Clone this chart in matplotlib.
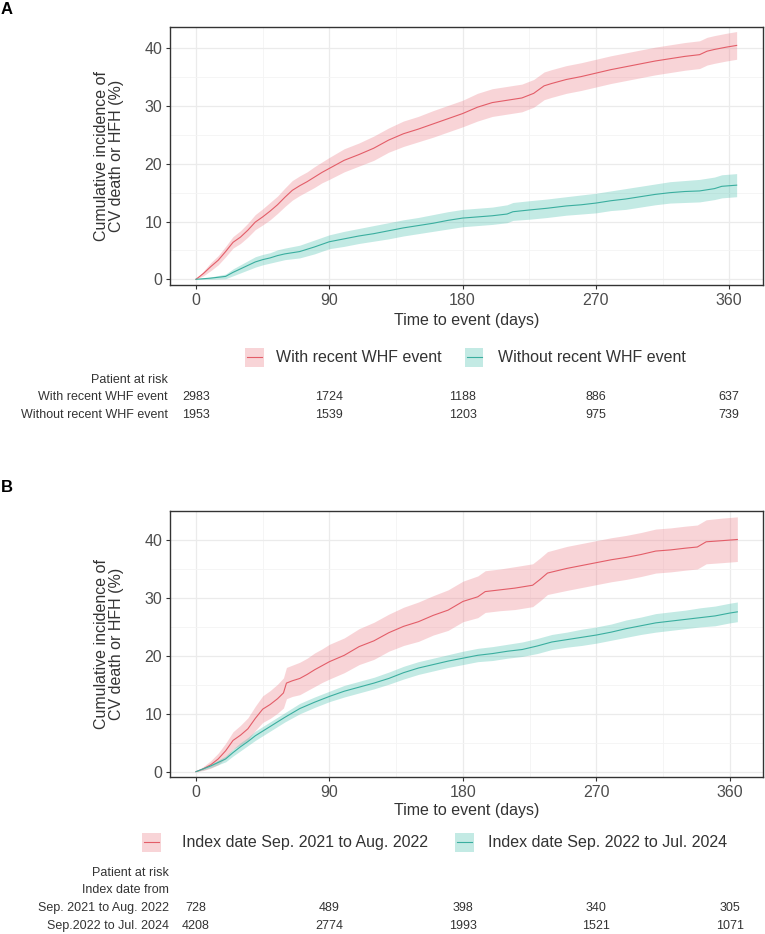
import matplotlib
matplotlib.use("Agg")
import matplotlib.pyplot as plt
import matplotlib.transforms as mtransforms
from matplotlib.patches import Rectangle
from matplotlib.lines import Line2D
import numpy as np

plt.rcParams['font.family'] = ['Liberation Sans', 'DejaVu Sans']

# ---------------- DATA ----------------
# Panel A: With recent WHF event
a1_days = [0, 5, 10, 15, 20, 25, 30, 35, 40, 45, 50, 55, 60, 65, 70, 75, 80, 85, 90, 100, 110, 120, 130,
           140, 150, 160, 170, 180, 190, 200, 210, 220, 228, 235, 240, 250, 260, 270, 280, 290, 300, 310,
           320, 330, 340, 345, 350, 358, 365]
a1_est = [0, 1.0, 2.2, 3.3, 4.8, 6.4, 7.3, 8.5, 9.9, 10.8, 11.8, 12.9, 14.2, 15.4, 16.2, 16.9, 17.7, 18.5,
          19.2, 20.6, 21.6, 22.7, 24.1, 25.2, 26.0, 26.9, 27.8, 28.7, 29.8, 30.6, 31.0, 31.4, 32.2, 33.5,
          33.9, 34.6, 35.1, 35.7, 36.3, 36.8, 37.3, 37.8, 38.2, 38.6, 38.9, 39.5, 39.8, 40.2, 40.5]
a1_lo = [0, 0.6, 1.5, 2.5, 3.9, 5.4, 6.2, 7.3, 8.6, 9.4, 10.3, 11.4, 12.6, 13.7, 14.5, 15.2, 15.9, 16.7,
         17.3, 18.6, 19.6, 20.6, 22.0, 23.0, 23.8, 24.6, 25.5, 26.4, 27.4, 28.2, 28.6, 29.0, 29.8, 31.1,
         31.5, 32.2, 32.7, 33.3, 33.9, 34.4, 34.9, 35.4, 35.8, 36.2, 36.5, 37.1, 37.4, 37.8, 38.1]
a1_hi = [0, 1.4, 2.9, 4.1, 5.7, 7.4, 8.4, 9.7, 11.2, 12.2, 13.3, 14.4, 15.8, 17.1, 17.9, 18.6, 19.5, 20.3,
         21.1, 22.6, 23.6, 24.8, 26.2, 27.4, 28.2, 29.2, 30.1, 31.0, 32.2, 33.0, 33.4, 33.8, 34.6, 35.9,
         36.3, 37.0, 37.5, 38.1, 38.7, 39.2, 39.7, 40.2, 40.6, 41.0, 41.3, 41.9, 42.2, 42.6, 42.9]

# Panel A: Without recent WHF event
a2_days = [0, 10, 20, 25, 30, 35, 40, 45, 50, 55, 60, 70, 80, 90, 100, 110, 120, 130, 140, 150, 160, 170,
           180, 190, 200, 210, 214, 225, 237, 250, 260, 270, 280, 290, 300, 310, 320, 330, 340, 350, 355, 365]
a2_est = [0, 0.2, 0.5, 1.2, 1.8, 2.4, 3.0, 3.4, 3.7, 4.1, 4.4, 4.8, 5.6, 6.5, 7.0, 7.5, 7.9, 8.4, 8.9, 9.3,
          9.7, 10.2, 10.6, 10.8, 11.0, 11.3, 11.7, 12.0, 12.3, 12.7, 12.9, 13.2, 13.6, 13.9, 14.3, 14.7,
          15.0, 15.2, 15.3, 15.7, 16.1, 16.3]
a2_lo = [0, 0.0, 0.1, 0.6, 1.1, 1.6, 2.1, 2.5, 2.8, 3.1, 3.4, 3.7, 4.4, 5.3, 5.7, 6.2, 6.6, 7.0, 7.5, 7.9,
         8.3, 8.7, 9.1, 9.3, 9.5, 9.8, 10.2, 10.4, 10.7, 11.1, 11.3, 11.5, 11.9, 12.1, 12.5, 12.9, 13.2,
         13.3, 13.4, 13.8, 14.1, 14.3]
a2_hi = [0, 0.4, 0.9, 1.8, 2.5, 3.2, 3.9, 4.3, 4.6, 5.1, 5.4, 5.9, 6.8, 7.7, 8.3, 8.8, 9.3, 9.8, 10.3, 10.7,
         11.2, 11.7, 12.1, 12.3, 12.5, 12.9, 13.3, 13.6, 13.9, 14.3, 14.6, 14.9, 15.3, 15.7, 16.1, 16.5,
         16.9, 17.1, 17.3, 17.7, 18.1, 18.3]

# Panel B: Index date Sep. 2021 to Aug. 2022
b1_days = [0, 5, 10, 15, 20, 25, 30, 35, 40, 45, 50, 55, 59, 61, 65, 70, 75, 80, 85, 90, 100, 110, 120,
           130, 140, 150, 160, 170, 180, 190, 195, 205, 215, 227, 232, 237, 250, 260, 270, 280, 290, 300,
           310, 320, 330, 338, 344, 355, 365]
b1_est = [0, 0.5, 1.2, 2.2, 3.6, 5.4, 6.3, 7.4, 9.2, 10.8, 11.6, 12.6, 13.6, 15.3, 15.7, 16.1, 16.8, 17.6,
          18.3, 19.0, 20.1, 21.6, 22.6, 24.0, 25.1, 25.9, 27.0, 27.9, 29.4, 30.2, 31.1, 31.4, 31.7, 32.2,
          33.2, 34.3, 35.1, 35.6, 36.1, 36.6, 37.0, 37.5, 38.1, 38.3, 38.6, 38.8, 39.7, 39.9, 40.1]
b1_lo = [0, 0.2, 0.6, 1.2, 2.3, 3.9, 4.6, 5.5, 7.1, 8.5, 9.2, 10.1, 11.0, 12.6, 13.0, 13.3, 14.0, 14.7,
         15.4, 16.0, 17.1, 18.5, 19.4, 20.8, 21.8, 22.5, 23.6, 24.4, 25.9, 26.6, 27.5, 27.8, 28.0, 28.5,
         29.5, 30.6, 31.3, 31.8, 32.3, 32.8, 33.2, 33.7, 34.3, 34.5, 34.8, 35.0, 35.9, 36.1, 36.3]
b1_hi = [0, 0.9, 1.9, 3.2, 4.9, 6.9, 8.0, 9.3, 11.3, 13.1, 14.0, 15.1, 16.2, 18.0, 18.4, 18.9, 19.6, 20.5,
         21.2, 22.0, 23.1, 24.7, 25.8, 27.2, 28.4, 29.3, 30.4, 31.4, 32.9, 33.8, 34.7, 35.0, 35.4, 35.9,
         36.9, 38.0, 38.9, 39.4, 39.9, 40.4, 40.8, 41.3, 41.9, 42.1, 42.4, 42.6, 43.5, 43.8, 44.0]

# Panel B: Index date Sep. 2022 to Jul. 2024
b2_days = [0, 5, 10, 15, 20, 25, 30, 35, 40, 45, 50, 55, 60, 70, 80, 90, 100, 110, 120, 130, 140, 150,
           160, 170, 180, 190, 200, 210, 220, 230, 240, 250, 260, 270, 280, 290, 300, 310, 320, 330, 340,
           350, 360, 365]
b2_est = [0, 0.5, 1.0, 1.6, 2.2, 3.3, 4.3, 5.2, 6.2, 7.0, 7.8, 8.6, 9.4, 10.9, 12.0, 13.0, 13.9, 14.6,
          15.3, 16.1, 17.1, 17.9, 18.5, 19.1, 19.6, 20.1, 20.4, 20.8, 21.1, 21.7, 22.4, 22.8, 23.2, 23.6,
          24.1, 24.7, 25.2, 25.7, 26.0, 26.3, 26.6, 26.9, 27.4, 27.6]
b2_lo = [0, 0.3, 0.7, 1.2, 1.7, 2.7, 3.6, 4.5, 5.4, 6.2, 7.0, 7.8, 8.6, 10.0, 11.1, 12.1, 12.9, 13.6,
         14.3, 15.1, 16.0, 16.8, 17.4, 18.0, 18.5, 19.0, 19.2, 19.6, 19.9, 20.4, 21.1, 21.5, 21.8, 22.2,
         22.7, 23.2, 23.7, 24.1, 24.4, 24.7, 25.0, 25.2, 25.7, 25.9]
b2_hi = [0, 0.7, 1.3, 2.0, 2.7, 3.9, 5.0, 5.9, 7.0, 7.8, 8.6, 9.4, 10.2, 11.8, 12.9, 13.9, 14.9, 15.6,
         16.3, 17.2, 18.2, 19.0, 19.6, 20.2, 20.8, 21.3, 21.6, 22.0, 22.4, 23.0, 23.7, 24.1, 24.6, 25.0,
         25.5, 26.2, 26.7, 27.3, 27.6, 27.9, 28.3, 28.6, 29.1, 29.3]

legend_a = ["With recent WHF event", "Without recent WHF event"]
legend_b = ["Index date Sep. 2021 to Aug. 2022", "Index date Sep. 2022 to Jul. 2024"]

risk_times = [0, 90, 180, 270, 360]
risk_a_labels = ["With recent WHF event", "Without recent WHF event"]
risk_a = [[2983, 1724, 1188, 886, 637],
          [1953, 1539, 1203, 975, 739]]
risk_b_header = ["Patient at risk", "Index date from"]
risk_b_labels = ["Sep. 2021 to Aug. 2022", "Sep.2022 to Jul. 2024"]
risk_b = [[728, 489, 398, 340, 305],
          [4208, 2774, 1993, 1521, 1071]]

x_ticks = [0, 90, 180, 270, 360]
y_ticks = [0, 10, 20, 30, 40]
ylabel = "Cumulative incidence of\nCV death or HFH (%)"
xlabel = "Time to event (days)"

# ---------------- STYLE ----------------
RED_LINE = "#E35D68"
RED_FILL = "#EC7A85"
TEAL_LINE = "#3AAE9F"
TEAL_FILL = "#45BFAD"
FILL_ALPHA = 0.32
W, H = 765, 934
TICK_COL = "#4D4D4D"
TITLE_COL = "#333333"

fig = plt.figure(figsize=(W / 100, H / 100), dpi=100)


def fx(px):
    return px / W


def fy(py):
    return 1 - py / H


def make_axes(top, bottom, xlim, ylim):
    ax = fig.add_axes([fx(170), fy(bottom), fx(763) - fx(170), fy(top) - fy(bottom)])
    ax.set_xlim(*xlim)
    ax.set_ylim(*ylim)
    ax.set_xticks(x_ticks)
    ax.set_yticks(y_ticks)
    ax.set_xticks([45, 135, 225, 315], minor=True)
    ax.set_yticks([5, 15, 25, 35], minor=True)
    ax.grid(which='major', color="#EBEBEB", lw=0.9, zorder=0)
    ax.grid(which='minor', color="#F4F4F4", lw=0.6, zorder=0)
    ax.tick_params(which='minor', length=0)
    ax.tick_params(which='major', length=2.6, width=0.8, color="#333333",
                   labelsize=11.5, labelcolor=TICK_COL, pad=3)
    for s in ax.spines.values():
        s.set_color("#333333")
        s.set_linewidth(1.0)
    ax.set_axisbelow(True)
    ax.set_ylabel(ylabel, fontsize=11.5, color=TITLE_COL, linespacing=1.05)
    ax.yaxis.label.set_va('center')
    ax.yaxis.set_label_coords((109 - 170) / 593, 0.5)
    ax.set_xlabel(xlabel, fontsize=11.5, color=TITLE_COL)
    ax.xaxis.label.set_va('center')
    return ax


def draw_curve(ax, days, est, lo, hi, lc, fc):
    ax.fill_between(days, lo, hi, color=fc, alpha=FILL_ALPHA, lw=0, zorder=2)
    ax.plot(days, est, color=lc, lw=0.8, zorder=3)


def legend(y, entries, key_x, text_x, colors):
    for kx, tx, lab, (lc, fc) in zip(key_x, text_x, entries, colors):
        fig.patches.append(Rectangle((fx(kx), fy(y + 9.5)), fx(18.5), fy(y - 9.5) - fy(y + 9.5),
                                     transform=fig.transFigure, facecolor=fc, alpha=FILL_ALPHA,
                                     edgecolor='none'))
        fig.lines.append(Line2D([fx(kx + 1.5), fx(kx + 17)], [fy(y), fy(y)], transform=fig.transFigure,
                                color=lc, lw=0.8))
        fig.text(fx(tx), fy(y), lab, fontsize=11.5, color=TITLE_COL, ha='left', va='center')


colors = [(RED_LINE, RED_FILL), (TEAL_LINE, TEAL_FILL)]

# ---------------- PANEL A ----------------
axA = make_axes(27, 285, (-17.55, 382.8), (-0.99, 43.69))
draw_curve(axA, a1_days, a1_est, a1_lo, a1_hi, RED_LINE, RED_FILL)
draw_curve(axA, a2_days, a2_est, a2_lo, a2_hi, TEAL_LINE, TEAL_FILL)
axA.xaxis.set_label_coords(0.5, -(320 - 285) / 258)
fig.text(fx(1), fy(9), "A", fontsize=12, fontweight='bold', ha='left', va='center', color='black')

legend(357, legend_a, [245, 465], [276, 498], colors)

transA = mtransforms.blended_transform_factory(axA.transData, fig.transFigure)
fig.text(fx(168), fy(379.5), "Patient at risk", fontsize=9, color=TITLE_COL, ha='right', va='center')
for row, (lab, vals) in enumerate(zip(risk_a_labels, risk_a)):
    yy = fy(397 + 17.5 * row)
    fig.text(fx(168), yy, lab, fontsize=9, color=TITLE_COL, ha='right', va='center')
    for t, v in zip(risk_times, vals):
        fig.text(t, yy, str(v), fontsize=9, color=TITLE_COL, ha='center', va='center', transform=transA)

# ---------------- PANEL B ----------------
axB = make_axes(510.7, 777.3, (-17.5, 382.3), (-0.97, 45.07))
draw_curve(axB, b1_days, b1_est, b1_lo, b1_hi, RED_LINE, RED_FILL)
draw_curve(axB, b2_days, b2_est, b2_lo, b2_hi, TEAL_LINE, TEAL_FILL)
axB.xaxis.set_label_coords(0.5, -(810 - 777.3) / 266.6)
fig.text(fx(1), fy(488), "B", fontsize=12, fontweight='bold', ha='left', va='center', color='black')

legend(842, legend_b, [142, 455], [181.5, 488], colors)

transB = mtransforms.blended_transform_factory(axB.transData, fig.transFigure)
for i, h in enumerate(risk_b_header):
    fig.text(fx(169), fy(872.7 + 17.5 * i), h, fontsize=9, color=TITLE_COL, ha='right', va='center')
for row, (lab, vals) in enumerate(zip(risk_b_labels, risk_b)):
    yy = fy(907.7 + 18 * row)
    fig.text(fx(169), yy, lab, fontsize=9, color=TITLE_COL, ha='right', va='center')
    for t, v in zip(risk_times, vals):
        fig.text(t, yy, str(v), fontsize=9, color=TITLE_COL, ha='center', va='center', transform=transB)

fig.savefig("out.png", dpi=100)
